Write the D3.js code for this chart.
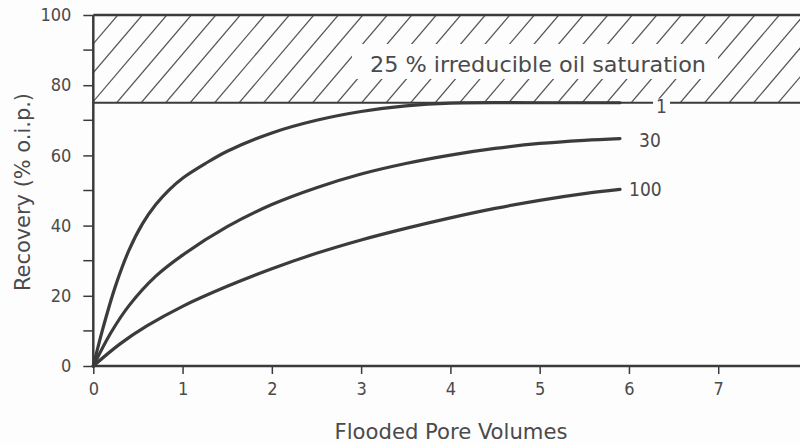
<!DOCTYPE html>
<html>
<head>
<meta charset="utf-8">
<script src="https://cdn.jsdelivr.net/npm/d3@7"></script>
<style>
  html, body { margin: 0; padding: 0; background: #fdfdfd; }
  svg { display: block; }
  text { font-family: "DejaVu Sans Condensed", "DejaVu Sans", sans-serif; fill: #4a4a4a; }
</style>
</head>
<body>
<div id="chart"></div>
<script>
// pore volumes flooded vs recovery, one curve per label
const curveLabels = ['1', '30', '100'];
const pv1 = [0, 0.1, 0.25, 0.4, 0.55, 0.7, 0.85, 1.0, 1.25, 1.5, 2.0, 2.5, 3.0, 3.5, 4.0, 5.0, 5.9];
const rec1 = [0, 10, 22.9, 33, 40.5, 46, 50.2, 53.5, 57.6, 61.2, 66.4, 70, 72.5, 74.1, 74.9, 75, 75];
const pv30 = [0, 0.2, 0.4, 0.7, 1.0, 1.5, 2.0, 2.5, 3.0, 3.5, 4.0, 4.5, 5.0, 5.5, 5.9];
const rec30 = [0, 9.6, 17.2, 25.6, 31.6, 39.7, 46, 50.8, 54.7, 57.7, 60.1, 62, 63.4, 64.3, 64.8];
const pv100 = [0, 0.3, 0.6, 1.0, 1.5, 2.0, 2.5, 3.0, 3.5, 4.0, 4.5, 5.0, 5.5, 5.9];
const rec100 = [0, 6.3, 11.4, 17, 22.7, 27.7, 32.1, 35.9, 39.2, 42.2, 44.9, 47.2, 49.1, 50.3];

const xTicks = [0, 1, 2, 3, 4, 5, 6, 7, 8];
const yTicks = [0, 20, 40, 60, 80, 100];
const yMinorTicks = [10, 30, 50, 70, 90];
const residualOil = 25; // % irreducible
const annotation = '25 % irreducible oil saturation';

const width = 800, height = 443;
const svg = d3.select('#chart').append('svg')
  .attr('width', width)
  .attr('height', height);

svg.append('rect').attr('width', width).attr('height', height).attr('fill', '#fdfdfd');

const x = d3.scaleLinear().domain([0, 8]).range([93.3, 807.5]);
const y = d3.scaleLinear().domain([0, 100]).range([366, 15]);

const ink = '#3b3b3b';
const capLevel = 100 - residualOil;

// hatched band for irreducible oil
svg.append('clipPath').attr('id', 'band')
  .append('rect')
  .attr('x', x(0)).attr('y', y(100))
  .attr('width', width - x(0)).attr('height', y(capLevel) - y(100));

const bandH = y(capLevel) - y(100);
const slant = bandH * 0.85;
const hatch = svg.append('g').attr('clip-path', 'url(#band)');
hatch.selectAll('line')
  .data(d3.range(x(0) - slant, width + 30, 24.5))
  .enter().append('line')
  .attr('x1', d => d).attr('y1', y(capLevel))
  .attr('x2', d => d + slant).attr('y2', y(100))
  .attr('stroke', '#555').attr('stroke-width', 1.2);

// blank box behind annotation
svg.append('rect')
  .attr('x', 352).attr('y', 44).attr('width', 366).attr('height', 35)
  .attr('fill', '#fdfdfd');

svg.append('text')
  .attr('x', 370).attr('y', 72)
  .attr('textLength', 336).attr('lengthAdjust', 'spacingAndGlyphs')
  .style('font-size', '21px')
  .text(annotation);

// top frame + band edge
svg.append('line')
  .attr('x1', x(0)).attr('x2', width).attr('y1', y(100)).attr('y2', y(100))
  .attr('stroke', ink).attr('stroke-width', 2.5);
svg.append('line')
  .attr('x1', x(0)).attr('x2', width).attr('y1', y(capLevel)).attr('y2', y(capLevel))
  .attr('stroke', ink).attr('stroke-width', 2);

// axes
const xAxis = svg.append('g')
  .attr('transform', `translate(0,${y(0)})`)
  .call(d3.axisBottom(x).tickValues(xTicks).tickSize(8).tickPadding(8).tickFormat(d3.format('d')));
xAxis.select('.domain').attr('d', `M${x(0)},0H${width}`).attr('stroke', ink).attr('stroke-width', 2.5);
xAxis.selectAll('.tick line').attr('stroke', ink).attr('stroke-width', 1.5);
xAxis.selectAll('.tick text').style('font-size', '18px').attr('fill', '#555').style('font-family', null);

const yAxis = svg.append('g')
  .attr('transform', `translate(${x(0)},0)`)
  .call(d3.axisLeft(y).tickValues(yTicks).tickSize(10).tickPadding(12));
yAxis.select('.domain').attr('d', `M0,${y(0)}V${y(100)}`).attr('stroke', ink).attr('stroke-width', 2.5);
yAxis.selectAll('.tick line').attr('stroke', ink).attr('stroke-width', 1.5);
yAxis.selectAll('.tick text').style('font-size', '18px').attr('fill', '#555').style('font-family', null);

svg.append('g')
  .selectAll('line')
  .data(yMinorTicks)
  .enter().append('line')
  .attr('x1', x(0) - 10).attr('x2', x(0))
  .attr('y1', d => y(d)).attr('y2', d => y(d))
  .attr('stroke', ink).attr('stroke-width', 1.5);

// axis titles
svg.append('text')
  .attr('x', 451).attr('y', 439)
  .attr('text-anchor', 'middle')
  .attr('textLength', 233).attr('lengthAdjust', 'spacingAndGlyphs')
  .style('font-size', '21px')
  .text('Flooded Pore Volumes');

svg.append('text')
  .attr('transform', 'translate(30,192) rotate(-90)')
  .attr('text-anchor', 'middle')
  .attr('textLength', 198).attr('lengthAdjust', 'spacingAndGlyphs')
  .style('font-size', '21px')
  .text('Recovery (% o.i.p.)');

// curves
const line = d3.line()
  .x(d => x(d[0]))
  .y(d => y(d[1]))
  .curve(d3.curveCatmullRom.alpha(0.5));

const series = [
  d3.zip(pv1, rec1),
  d3.zip(pv30, rec30),
  d3.zip(pv100, rec100)
];

svg.append('g')
  .selectAll('path')
  .data(series)
  .enter().append('path')
  .attr('d', line)
  .attr('fill', 'none')
  .attr('stroke', ink)
  .attr('stroke-width', 3.2)
  .attr('stroke-linecap', 'round');

// curve labels at line ends
const labelPos = [
  { dx: 36, dy: 10 },
  { dx: 19, dy: 8 },
  { dx: 9, dy: 7 }
];
const labels = svg.append('g');
series.forEach((s, i) => {
  const last = s[s.length - 1];
  const lx = x(last[0]) + labelPos[i].dx;
  const ly = y(last[1]) + labelPos[i].dy;
  if (i === 0) {
    labels.append('rect')
      .attr('x', lx - 3).attr('y', ly - 14).attr('width', 17).attr('height', 22)
      .attr('fill', '#fdfdfd');
  }
  labels.append('text')
    .attr('x', lx).attr('y', ly)
    .style('font-size', '19px')
    .text(curveLabels[i]);
});
</script>
</body>
</html>
